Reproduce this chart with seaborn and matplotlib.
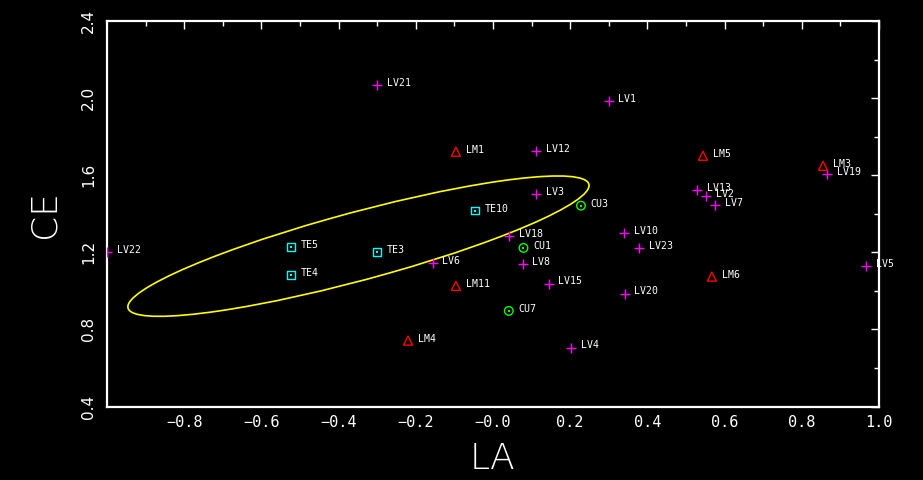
import numpy as np
import pandas as pd
import matplotlib
matplotlib.use("Agg")
import matplotlib.pyplot as plt
import seaborn as sns
from matplotlib.patches import Ellipse
from matplotlib.ticker import FixedLocator

# ---------------- data ----------------
lv_names = ["LV1", "LV2", "LV3", "LV4", "LV5", "LV6", "LV7", "LV8", "LV10",
            "LV12", "LV13", "LV15", "LV18", "LV19", "LV20", "LV21", "LV22", "LV23"]
lv_la = [0.300, 0.552, 0.111, 0.202, 0.966, -0.156, 0.575, 0.077, 0.339,
         0.111, 0.528, 0.144, 0.041, 0.865, 0.341, -0.300, -1.000, 0.379]
lv_ce = [1.987, 1.494, 1.504, 0.706, 1.131, 1.144, 1.447, 1.139, 1.301,
         1.727, 1.525, 1.038, 1.286, 1.608, 0.986, 2.070, 1.201, 1.220]

lm_names = ["LM1", "LM3", "LM4", "LM5", "LM6", "LM11"]
lm_la = [-0.096, 0.855, -0.220, 0.544, 0.567, -0.096]
lm_ce = [1.722, 1.649, 0.742, 1.701, 1.074, 1.026]

te_names = ["TE3", "TE4", "TE5", "TE10"]
te_la = [-0.301, -0.523, -0.523, -0.047]
te_ce = [1.203, 1.082, 1.227, 1.416]

cu_names = ["CU1", "CU3", "CU7"]
cu_la = [0.079, 0.228, 0.041]
cu_ce = [1.223, 1.442, 0.896]

x_ticks = [-0.8, -0.6, -0.4, -0.2, 0.0, 0.2, 0.4, 0.6, 0.8, 1.0]
x_tick_labels = ["\u22120.8", "\u22120.6", "\u22120.4", "\u22120.2", "\u22120.0",
                 "0.2", "0.4", "0.6", "0.8", "1.0"]
y_ticks = [0.4, 0.8, 1.2, 1.6, 2.0, 2.4]
y_tick_labels = ["0.4", "0.8", "1.2", "1.6", "2.0", "2.4"]

# ---------------- style ----------------
sns.set_style("dark", {"axes.facecolor": "black", "figure.facecolor": "black"})
plt.rcParams["font.family"] = ["DejaVu Sans"]

fig = plt.figure(figsize=(9.23, 4.80), dpi=100, facecolor="black")
ax = fig.add_axes([0.1159, 0.1531, 0.8364, 0.8031])
ax.set_facecolor("black")

groups = [
    (lv_la, lv_ce, lv_names, "+", "#ff00ff", 55, False),
    (lm_la, lm_ce, lm_names, "^", "#ff0000", 42, True),
    (te_la, te_ce, te_names, "s", "#00ffff", 30, True),
    (cu_la, cu_ce, cu_names, "o", "#00ff00", 38, True),
]

for xs, ys, names, mk, col, size, hollow in groups:
    df = pd.DataFrame({"LA": xs, "CE": ys, "name": names})
    sns.scatterplot(data=df, x="LA", y="CE", marker=mk, s=size, color=col,
                    edgecolor=col, linewidth=1.0, ax=ax, legend=False, zorder=3)
    coll = ax.collections[-1]
    if hollow:
        coll.set_facecolor("none")
        coll.set_edgecolor(col)
    if mk in ("s", "o"):
        sns.scatterplot(data=df, x="LA", y="CE", marker="s", s=1.5, color=col,
                        edgecolor=col, linewidth=0, ax=ax, legend=False, zorder=4)
    for _, r in df.iterrows():
        ax.annotate(r["name"], (r["LA"], r["CE"]), xytext=(7.0, 1.5),
                    textcoords="offset points", color="white", fontsize=7.1,
                    family="DejaVu Sans Mono", ha="left", va="center",
                    annotation_clip=False, zorder=5)

# confidence ellipse of the TE group
te_x = np.array(te_la)
te_y = np.array(te_ce)
cov = np.cov(te_x, te_y)
vals, vecs = np.linalg.eigh(cov)
order = vals.argsort()[::-1]
vals, vecs = vals[order], vecs[:, order]
angle = np.degrees(np.arctan2(vecs[1, 0], vecs[0, 0]))
k = np.sqrt(6.95)
ell = Ellipse((te_x.mean(), te_y.mean()), width=2 * k * np.sqrt(vals[0]),
              height=2 * k * np.sqrt(vals[1]), angle=angle,
              facecolor="none", edgecolor="#ffff00", linewidth=1.2, zorder=2)
ax.add_patch(ell)

# axes
ax.set_xlim(-1.0, 1.0)
ax.set_ylim(0.4, 2.4)
ax.xaxis.set_major_locator(FixedLocator(x_ticks))
ax.xaxis.set_minor_locator(FixedLocator(np.arange(-0.9, 1.0, 0.2)))
ax.yaxis.set_major_locator(FixedLocator(y_ticks))
ax.yaxis.set_minor_locator(FixedLocator(np.arange(0.6, 2.4, 0.4)))
ax.set_xticklabels(x_tick_labels, fontsize=11, family="DejaVu Sans Mono", color="white")
ax.set_yticklabels(y_tick_labels, fontsize=11, color="white", rotation=90, va="center")
ax.tick_params(which="both", direction="in", top=True, right=True,
               colors="white", width=1.0)
ax.tick_params(which="major", length=5.5)
ax.tick_params(which="minor", length=3.5)
ax.tick_params(axis="x", which="major", pad=6)
ax.tick_params(axis="y", which="major", pad=8)
for sp in ax.spines.values():
    sp.set_color("white")
    sp.set_linewidth(1.6)
    sp.set_visible(True)
ax.grid(False)

ax.set_xlabel("LA", fontsize=26, color="white", labelpad=9, fontweight="light")
ax.set_ylabel("CE", fontsize=26, color="white", labelpad=14, fontweight="light")

fig.savefig("out.png", dpi=100, facecolor="black")
